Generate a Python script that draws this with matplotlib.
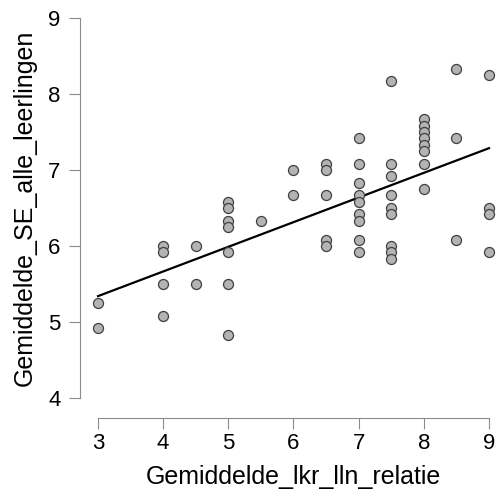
import numpy as np
import matplotlib
matplotlib.use("Agg")
from matplotlib import pyplot as plt

# lkr_lln_relatie (x) en SE_alle_leerlingen (y), per school
lkr = [3, 3,
       4, 4, 4, 4,
       4.5, 4.5,
       5, 5, 5, 5, 5, 5, 5,
       5.5,
       6, 6,
       6.5, 6.5, 6.5, 6.5, 6.5,
       7, 7, 7, 7, 7, 7, 7, 7, 7,
       7.5, 7.5, 7.5, 7.5, 7.5, 7.5, 7.5, 7.5, 7.5,
       8, 8, 8, 8, 8, 8, 8, 8,
       8.5, 8.5, 8.5,
       9, 9, 9, 9]
se = [5.25, 4.92,
      6.0, 5.92, 5.5, 5.08,
      6.0, 5.5,
      6.58, 6.5, 6.33, 6.25, 5.92, 5.5, 4.83,
      6.33,
      7.0, 6.67,
      7.08, 7.0, 6.67, 6.08, 6.0,
      7.42, 7.08, 6.83, 6.67, 6.58, 6.42, 6.33, 6.08, 5.92,
      8.17, 7.08, 6.92, 6.67, 6.5, 6.42, 6.0, 5.92, 5.83,
      7.67, 7.58, 7.5, 7.42, 7.33, 7.25, 7.08, 6.75,
      8.33, 7.42, 6.08,
      8.25, 6.5, 6.42, 5.92]

x_ticks = [3, 4, 5, 6, 7, 8, 9]
y_ticks = [4, 5, 6, 7, 8, 9]

plt.rcParams['font.family'] = ['Liberation Sans', 'DejaVu Sans']

W, H = 497, 498
fig = plt.figure(figsize=(W / 100, H / 100), dpi=100)
ax = fig.add_axes([98 / W, (H - 398) / H, (489 - 98) / W, (398 - 18) / H])

x = np.array(lkr)
y = np.array(se)
b, a = np.polyfit(x, y, 1)
xl = np.array([min(x_ticks), max(x_ticks)])
ax.plot(xl, a + b * xl, color="black", lw=1.6, zorder=2, clip_on=False)
ax.scatter(x, y, s=52, facecolor="#b3b3b3", edgecolor="#404040", linewidths=0.9,
           zorder=3, clip_on=False)

ax.set_xlim(3, 9)
ax.set_ylim(4, 9)
ax.set_xticks(x_ticks)
ax.set_yticks(y_ticks)

for s in ["top", "right"]:
    ax.spines[s].set_visible(False)
ax.spines["left"].set_position(("outward", 18 * 0.72))
ax.spines["bottom"].set_position(("outward", 20 * 0.72))
for s in ["left", "bottom"]:
    ax.spines[s].set_color("#8c8c8c")
    ax.spines[s].set_linewidth(0.8)
ax.tick_params(axis="both", length=8, width=0.8, color="#8c8c8c", labelsize=16, labelcolor="black")
ax.tick_params(axis="y", pad=6)
ax.tick_params(axis="x", pad=3)

ax.set_xlabel("Gemiddelde_lkr_lln_relatie", fontsize=18, labelpad=8)
ax.set_ylabel("Gemiddelde_SE_alle_leerlingen", fontsize=18, labelpad=8)

fig.savefig("out.png", dpi=100)
